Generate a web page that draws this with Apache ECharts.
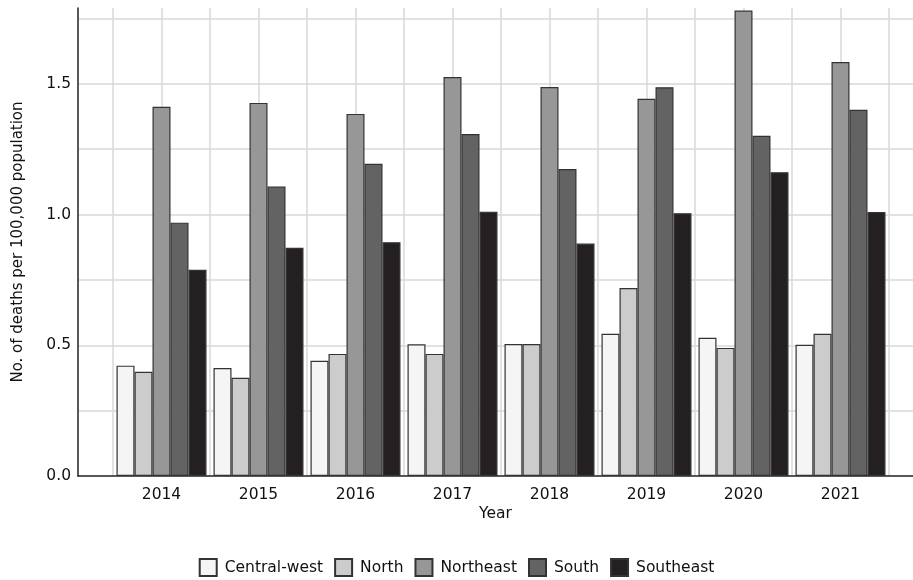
<!DOCTYPE html>
<html>
<head>
<meta charset="utf-8">
<script src="https://cdn.jsdelivr.net/npm/echarts@6/dist/echarts.min.js"></script>
<style>html,body{margin:0;padding:0;background:#fff}#c{width:913px;height:580px}</style>
</head>
<body>
<div id="c"></div>
<script>
const years = ['2014','2015','2016','2017','2018','2019','2020','2021'];
const regionNames = ['Central-west','North','Northeast','South','Southeast'];
const centralWest = [0.422, 0.413, 0.441, 0.504, 0.505, 0.544, 0.529, 0.502];
const north       = [0.399, 0.376, 0.467, 0.467, 0.505, 0.719, 0.490, 0.544];
const northeast   = [1.412, 1.427, 1.385, 1.526, 1.488, 1.443, 1.780, 1.583];
const south       = [0.969, 1.107, 1.194, 1.308, 1.174, 1.487, 1.301, 1.401];
const southeast   = [0.789, 0.873, 0.894, 1.011, 0.889, 1.005, 1.162, 1.010];
const yTicks = [0, 0.5, 1.0, 1.5];
const seriesValues = [centralWest, north, northeast, south, southeast];
const colors = ['#f5f5f5', '#cccccc', '#979797', '#636363', '#242021'];

const FONT = 'DejaVu Sans';
const YMAX = 1.79;
const halfSlots = [];
years.forEach(y => { halfSlots.push(y + 'a'); halfSlots.push(y + 'b'); });

const chart = echarts.init(document.getElementById('c'), null, {renderer: 'canvas'});
chart.setOption({
  animation: false,
  backgroundColor: '#ffffff',
  textStyle: {fontFamily: FONT},
  grid: [
    {left: 78, right: 0, top: 8, bottom: 104, containLabel: false},
    {left: 113, right: 24, top: 8, bottom: 104, containLabel: false}
  ],
  xAxis: [
    {
      gridIndex: 0, type: 'value', min: 0, max: 1,
      axisLine: {show: true, lineStyle: {color: '#222', width: 1.5}},
      axisTick: {show: false}, axisLabel: {show: false}, splitLine: {show: false},
      name: 'Year', nameLocation: 'middle', nameGap: 30,
      nameTextStyle: {fontFamily: FONT, fontSize: 15.5, color: '#111', verticalAlign: 'top'}
    },
    {
      gridIndex: 1, type: 'category', data: years, boundaryGap: true,
      axisLine: {show: false}, axisTick: {show: false},
      axisLabel: {show: true, margin: 11, fontFamily: FONT, fontSize: 15.5, color: '#111'},
      splitLine: {show: false}
    },
    {
      gridIndex: 1, type: 'category', data: halfSlots, boundaryGap: true, position: 'bottom',
      axisLine: {show: false}, axisTick: {show: false}, axisLabel: {show: false},
      splitLine: {show: true, interval: 0, lineStyle: {color: '#d9d9d9', width: 1.5}}
    }
  ],
  yAxis: [
    {
      gridIndex: 0, type: 'value', min: 0, max: YMAX, interval: 0.25,
      axisLine: {show: true, lineStyle: {color: '#222', width: 1.5}},
      axisTick: {show: false},
      axisLabel: {
        show: true, margin: 7, fontFamily: FONT, fontSize: 15.5, color: '#111',
        showMaxLabel: false,
        formatter: function (v) {
          for (const t of yTicks) { if (Math.abs(v - t) < 1e-6) return t.toFixed(1); }
          return '';
        }
      },
      splitLine: {show: true, showMaxLine: false, showMinLine: false, lineStyle: {color: '#d9d9d9', width: 1.5}},
      name: 'No. of deaths per 100,000 population', nameLocation: 'middle', nameGap: 52,
      nameTextStyle: {fontFamily: FONT, fontSize: 15, color: '#111'}
    },
    {
      gridIndex: 1, type: 'value', min: 0, max: YMAX, show: false
    }
  ],
  legend: {
    bottom: 3, left: 'center', padding: 0, icon: 'rect', itemWidth: 17, itemHeight: 17, itemGap: 11,
    textStyle: {fontFamily: FONT, fontSize: 15.5, color: '#111', padding: [0, 0, 0, 3]},
    data: regionNames
  },
  series: regionNames.map((name, i) => ({
    name: name, type: 'bar', xAxisIndex: 1, yAxisIndex: 1,
    data: seriesValues[i], barWidth: 18, barGap: '0%',
    itemStyle: {color: colors[i], borderColor: '#333', borderWidth: 1.2},
    z: 3
  }))
});
</script>
</body>
</html>
